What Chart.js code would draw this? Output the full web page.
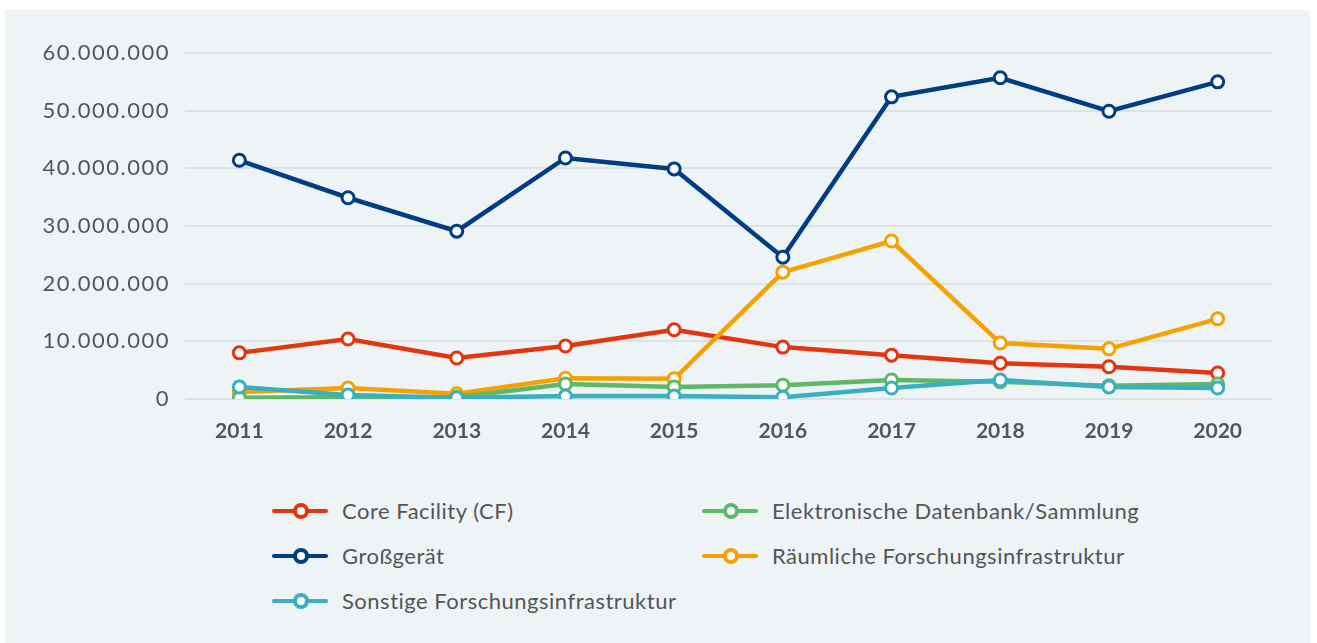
<!DOCTYPE html>
<html>
<head>
<meta charset="utf-8">
<script src="https://cdn.jsdelivr.net/npm/chart.js@4"></script>
<style>
  body { margin: 0; background: #fff; font-family: Lato, sans-serif; }
  #panel { position: absolute; left: 5px; top: 10px; width: 1305px; height: 633px; background: #eef3f6; }
  #chartBox { position: absolute; left: 0; top: 0; width: 1305px; height: 460px; }
  #legend { position: absolute; left: 267px; top: 478px; display: grid; grid-template-columns: 430px 520px; row-gap: 0; }
  .item { display: flex; align-items: center; height: 45px; font-size: 22px; letter-spacing: 0.5px; color: #555; }
  .icon { position: relative; width: 56px; height: 16px; margin-right: 14px; }
  .icon .bar { position: absolute; left: 0; top: 6px; width: 56px; height: 4px; border-radius: 2px; }
  .icon .dot { position: absolute; left: 21px; top: 0; width: 8px; height: 8px; border-radius: 50%; background: #fff; border: 4px solid; }
</style>
</head>
<body>
<div id="panel">
  <div id="chartBox"><canvas id="fiChart"></canvas></div>
  <div id="legend"></div>
</div>
<script>
// Jahre und Werte (Euro)
const years = ['2011', '2012', '2013', '2014', '2015', '2016', '2017', '2018', '2019', '2020'];
const coreFacility = [8000000, 10400000, 7100000, 9200000, 12000000, 9000000, 7600000, 6200000, 5600000, 4500000];
const datenbank = [200000, 300000, 300000, 2600000, 2100000, 2400000, 3300000, 3000000, 2300000, 2600000];
const grossgeraet = [41400000, 34900000, 29100000, 41800000, 39900000, 24600000, 52400000, 55700000, 49900000, 55000000];
const raeumlich = [1200000, 1900000, 900000, 3600000, 3500000, 22000000, 27400000, 9700000, 8700000, 13900000];
const sonstige = [2100000, 700000, 200000, 500000, 500000, 300000, 1900000, 3300000, 2100000, 1900000];
const yTicks = [0, 10000000, 20000000, 30000000, 40000000, 50000000, 60000000];

function fmt(v) {
  return String(v).replace(/\B(?=(\d{3})+(?!\d))/g, '.');
}

function series(label, data, color, order) {
  return {
    label: label,
    data: data,
    borderColor: color,
    backgroundColor: '#fff',
    pointBackgroundColor: '#fff',
    pointBorderColor: color,
    borderWidth: 4.5,
    pointRadius: 6,
    pointBorderWidth: 3,
    tension: 0,
    order: order
  };
}

const datasets = [
  series('Core Facility (CF)', coreFacility, '#e5350f', 3),
  series('Elektronische Datenbank/Sammlung', datenbank, '#5fb768', 1),
  series('Großgerät', grossgeraet, '#003d85', 4),
  series('Räumliche Forschungsinfrastruktur', raeumlich, '#f5a200', 2),
  series('Sonstige Forschungsinfrastruktur', sonstige, '#3aafc2', 0)
];

// y-Beschriftung etwas gesperrt, Jahreszahlen normal
const spacing = {
  id: 'spacing',
  beforeDraw: (chart) => { chart.ctx.letterSpacing = '1.5px'; },
  afterDatasetsDraw: (chart) => { chart.ctx.letterSpacing = '0px'; }
};

const ctx = document.getElementById('fiChart').getContext('2d');
const fiChart = new Chart(ctx, {
  type: 'line',
  data: { labels: years, datasets: datasets },
  plugins: [spacing],
  options: {
    responsive: true,
    maintainAspectRatio: false,
    animation: false,
    layout: { padding: { top: 43, right: 38, left: 0, bottom: 0 } },
    plugins: { legend: { display: false }, tooltip: { enabled: false } },
    scales: {
      x: {
        offset: true,
        grid: { display: false, drawTicks: false },
        border: { display: false },
        ticks: { z: 1, color: '#555', padding: 20, font: { family: 'Lato', size: 21, weight: 'bold' } },
        afterFit: (scale) => { scale.height = 71; }
      },
      y: {
        min: 0,
        max: 60000000,
        afterBuildTicks: (scale) => { scale.ticks = yTicks.map(v => ({ value: v })); },
        grid: { color: '#dde2e7', lineWidth: 2, drawTicks: false },
        border: { display: false },
        ticks: { color: '#555', padding: 15, font: { family: 'Lato', size: 22 }, callback: (v) => fmt(v) },
        afterFit: (scale) => { scale.width = 180; }
      }
    }
  }
});

// Legende in zwei Spalten
const legend = document.getElementById('legend');
datasets.forEach(ds => {
  const item = document.createElement('div');
  item.className = 'item';
  item.innerHTML = '<span class="icon"><span class="bar" style="background:' + ds.borderColor + '"></span>' +
    '<span class="dot" style="border-color:' + ds.borderColor + '"></span></span>' + ds.label;
  legend.appendChild(item);
});
</script>
</body>
</html>
